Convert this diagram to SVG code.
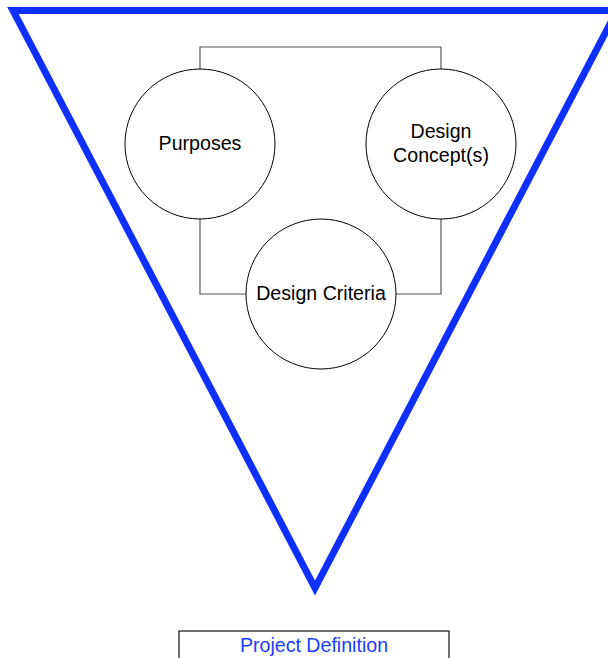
<svg xmlns="http://www.w3.org/2000/svg" width="608" height="658" viewBox="0 0 608 658">
<style>
.node circle{fill:#fff;stroke:#000;stroke-width:1}
.lbl{font-family:"Liberation Sans",Arial,sans-serif;font-size:19.6px;fill:#000;text-anchor:middle}
.conn{fill:none;stroke:#555;stroke-width:1.2}
</style>
<rect width="608" height="658" fill="#fff"/>
<polygon id="funnel" points="13,10.5 617,10.5 315,588" fill="none" stroke="#0f2fff" stroke-width="7" stroke-linejoin="miter"/>
<g id="connectors">
<polyline class="conn" points="200,69 200,47 441,47 441,69"/>
<polyline class="conn" points="200,219 200,294 246,294"/>
<polyline class="conn" points="441,219 441,294 396,294"/>
</g>
<g id="purposes" class="node">
<circle cx="200" cy="144" r="75"/>
<text class="lbl" x="200" y="150">Purposes</text>
</g>
<g id="design-concepts" class="node">
<circle cx="441" cy="144" r="75"/>
<text class="lbl" x="441" y="138">Design</text>
<text class="lbl" x="441" y="162">Concept(s)</text>
</g>
<g id="design-criteria" class="node">
<circle cx="321" cy="294" r="75"/>
<text class="lbl" x="321" y="300">Design Criteria</text>
</g>
<g id="project-definition">
<rect x="179" y="631" width="270" height="40" fill="#fff" stroke="#222" stroke-width="1.3"/>
<text class="lbl" x="314" y="652" style="fill:#1a3cff">Project Definition</text>
</g>
</svg>
